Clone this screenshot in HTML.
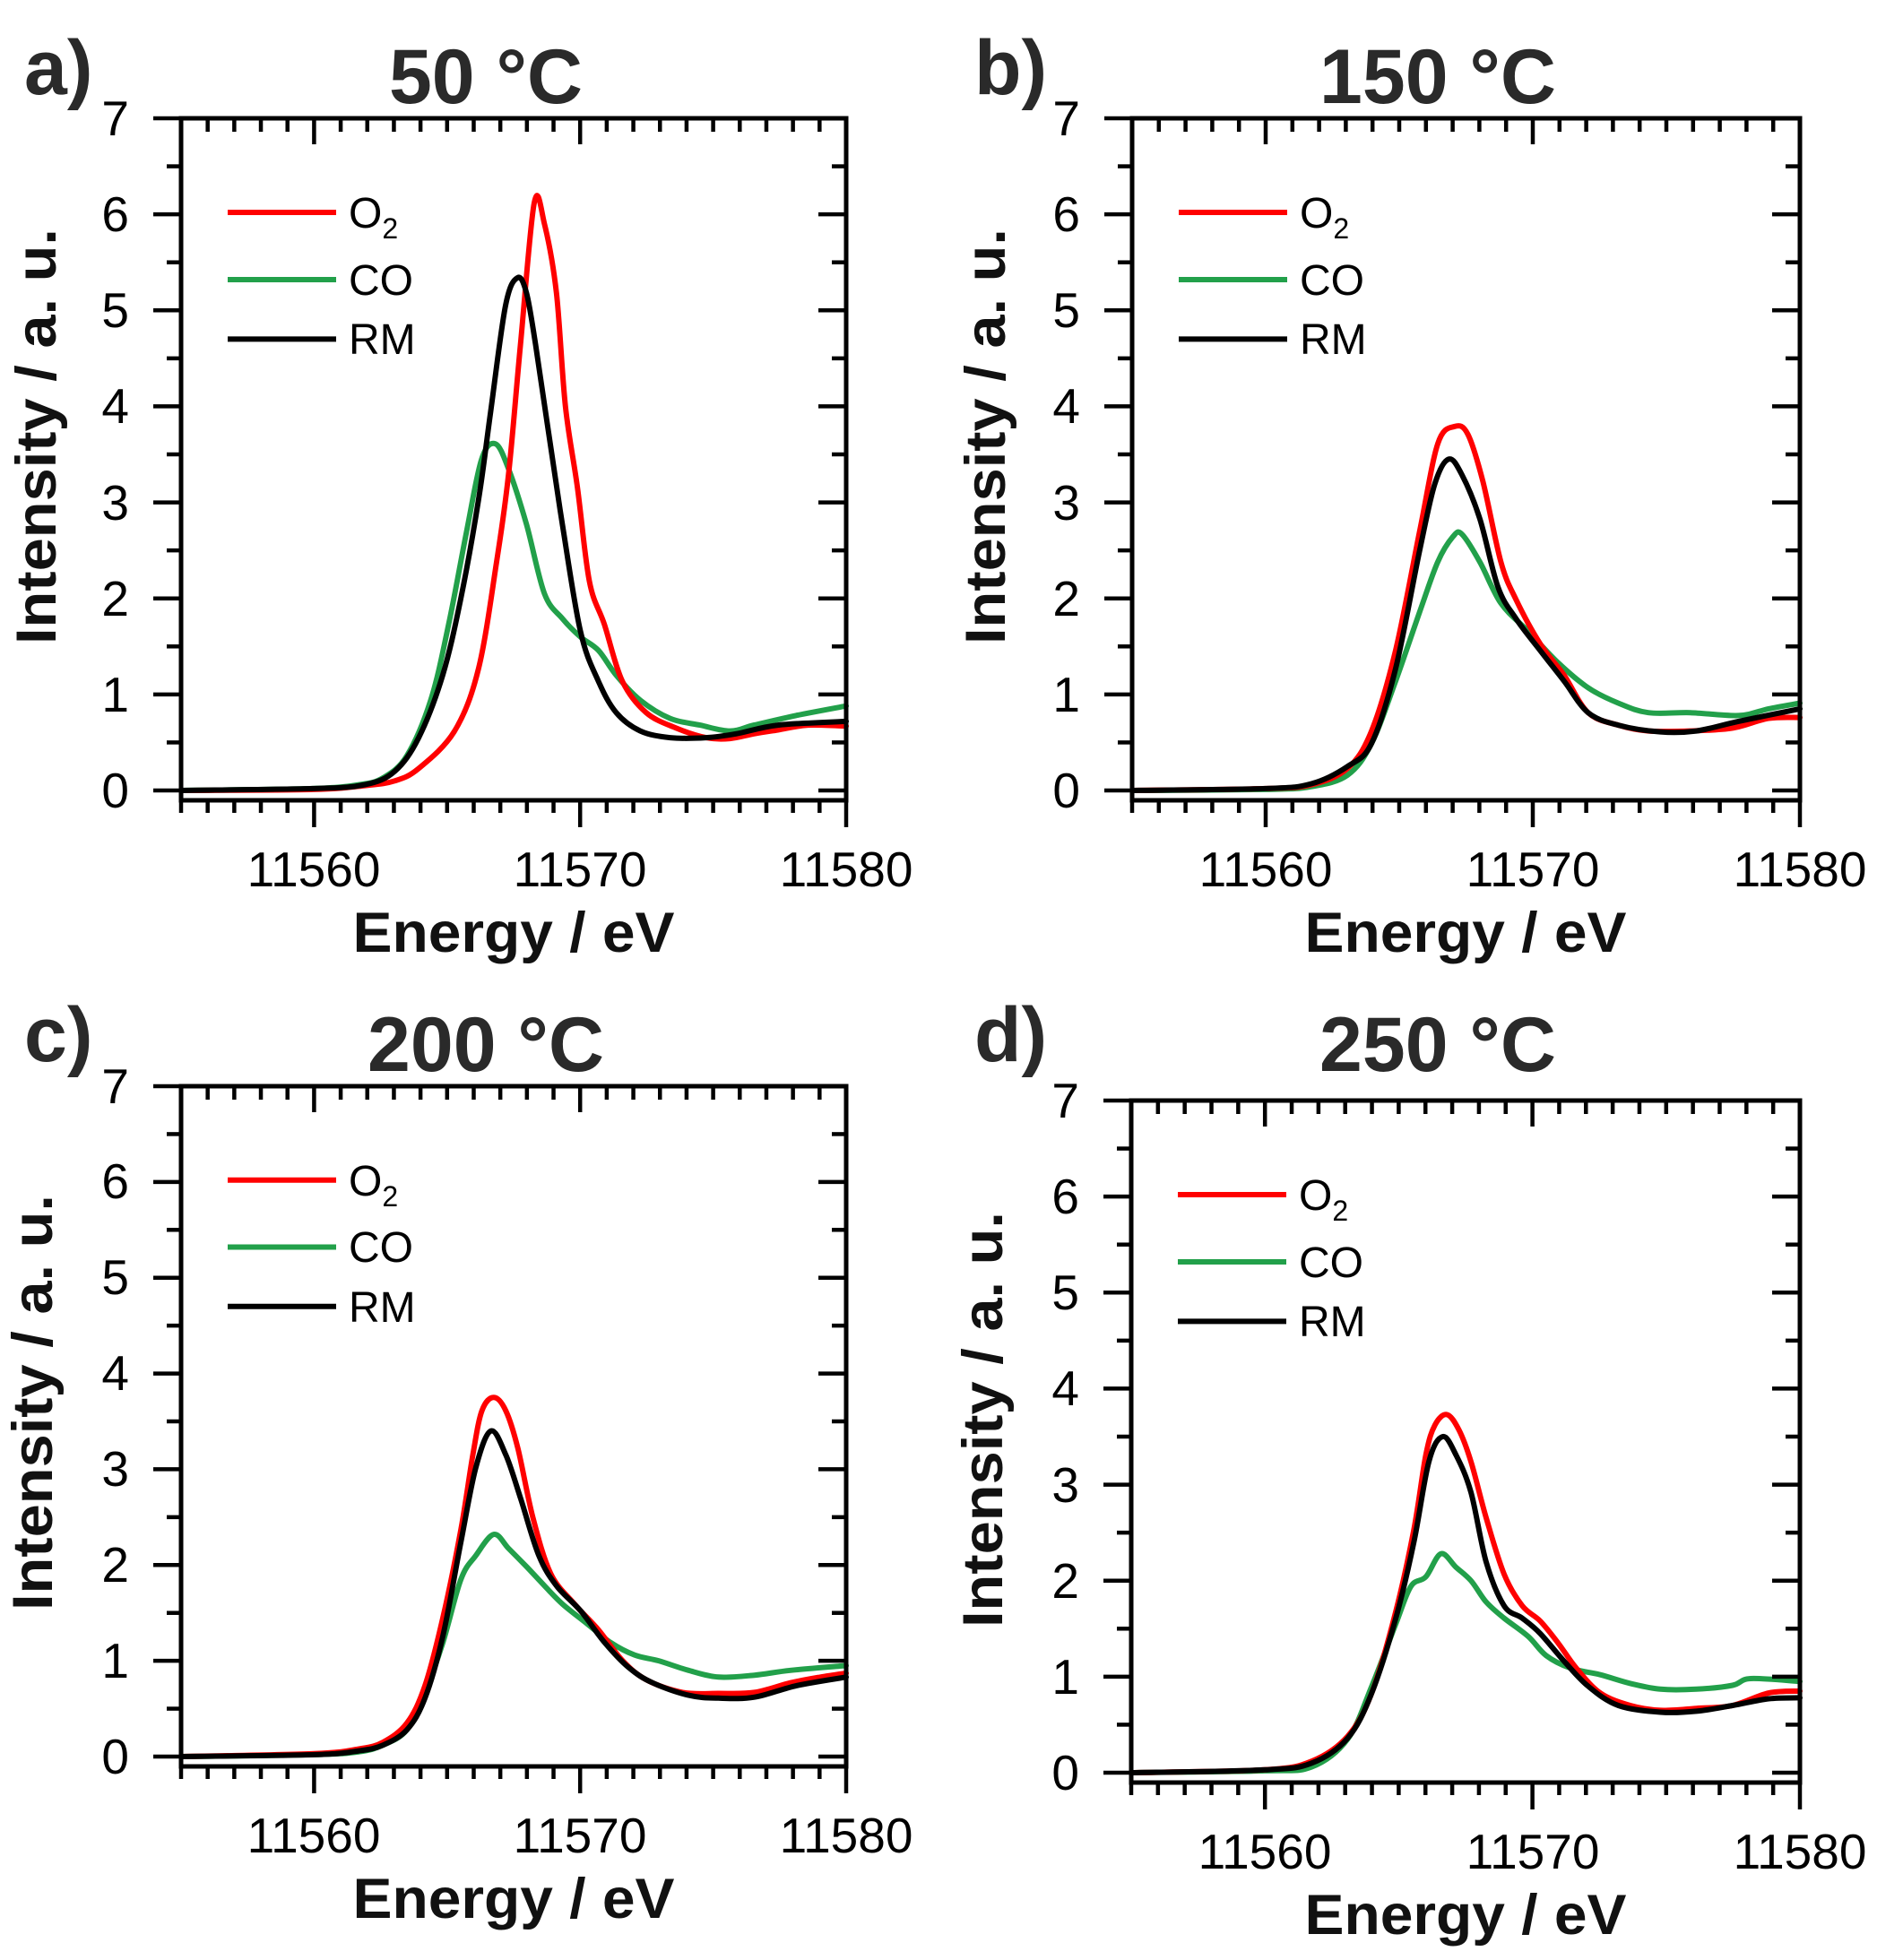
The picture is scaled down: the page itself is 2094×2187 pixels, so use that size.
<!DOCTYPE html>
<html><head><meta charset="utf-8"><style>
html,body{margin:0;padding:0;background:#fff}
svg{display:block}
text{font-family:"Liberation Sans",Arial,sans-serif}
.t{font-size:86px;font-weight:bold;fill:#2a2a2a}
.tk{font-size:55px;fill:#000}
.ax{font-size:63px;font-weight:bold;fill:#111}
.lg{font-size:48px;fill:#000}
</style></head><body>
<svg id="s" width="2094" height="2187" viewBox="0 0 2094 2187" xmlns="http://www.w3.org/2000/svg">
<g id="g"></g>
<text class="t" x="27" y="105">a)</text>
<text class="t" x="1087" y="105">b)</text>
<text class="t" x="27" y="1184">c)</text>
<text class="t" x="1087" y="1184">d)</text>
<text class="t" x="542" y="115" text-anchor="middle">50 °C</text>
<text class="t" x="1604" y="115" text-anchor="middle">150 °C</text>
<text class="t" x="542" y="1195" text-anchor="middle">200 °C</text>
<text class="t" x="1604" y="1195" text-anchor="middle">250 °C</text>
<g class="tk" text-anchor="end">
<text x="144" y="901">0</text><text x="144" y="794">1</text><text x="144" y="687">2</text><text x="144" y="580">3</text><text x="144" y="472">4</text><text x="144" y="365">5</text><text x="144" y="258">6</text><text x="144" y="151">7</text>
<text x="1205" y="901">0</text><text x="1205" y="794">1</text><text x="1205" y="687">2</text><text x="1205" y="580">3</text><text x="1205" y="472">4</text><text x="1205" y="365">5</text><text x="1205" y="258">6</text><text x="1205" y="151">7</text>
<text x="144" y="1979">0</text><text x="144" y="1872">1</text><text x="144" y="1765">2</text><text x="144" y="1658">3</text><text x="144" y="1551">4</text><text x="144" y="1444">5</text><text x="144" y="1337">6</text><text x="144" y="1231">7</text>
<text x="1204" y="1997">0</text><text x="1204" y="1890">1</text><text x="1204" y="1783">2</text><text x="1204" y="1676">3</text><text x="1204" y="1568">4</text><text x="1204" y="1461">5</text><text x="1204" y="1354">6</text><text x="1204" y="1247">7</text>
</g>
<g class="tk" text-anchor="middle">
<text x="350" y="989">11560</text><text x="647" y="989">11570</text><text x="944" y="989">11580</text>
<text x="1412" y="989">11560</text><text x="1710" y="989">11570</text><text x="2008" y="989">11580</text>
<text x="350" y="2067">11560</text><text x="647" y="2067">11570</text><text x="944" y="2067">11580</text>
<text x="1411" y="2085">11560</text><text x="1710" y="2085">11570</text><text x="2008" y="2085">11580</text>
</g>
<g class="ax" text-anchor="middle">
<text x="573" y="1062" textLength="359" lengthAdjust="spacingAndGlyphs">Energy / eV</text>
<text x="1635" y="1062" textLength="359" lengthAdjust="spacingAndGlyphs">Energy / eV</text>
<text x="573" y="2140" textLength="359" lengthAdjust="spacingAndGlyphs">Energy / eV</text>
<text x="1635" y="2158" textLength="359" lengthAdjust="spacingAndGlyphs">Energy / eV</text>
<text transform="translate(62,487) rotate(-90)" textLength="464" lengthAdjust="spacingAndGlyphs">Intensity / a. u.</text>
<text transform="translate(1121,487) rotate(-90)" textLength="464" lengthAdjust="spacingAndGlyphs">Intensity / a. u.</text>
<text transform="translate(58,1565) rotate(-90)" textLength="464" lengthAdjust="spacingAndGlyphs">Intensity / a. u.</text>
<text transform="translate(1118,1584) rotate(-90)" textLength="464" lengthAdjust="spacingAndGlyphs">Intensity / a. u.</text>
</g>
<g class="lg">
<text x="389" y="254">O<tspan font-size="32" dy="12">2</tspan></text><text x="389" y="329">CO</text><text x="389" y="395">RM</text>
<text x="1450" y="254">O<tspan font-size="32" dy="12">2</tspan></text><text x="1450" y="329">CO</text><text x="1450" y="395">RM</text>
<text x="389" y="1334">O<tspan font-size="32" dy="12">2</tspan></text><text x="389" y="1408">CO</text><text x="389" y="1475">RM</text>
<text x="1449" y="1350">O<tspan font-size="32" dy="12">2</tspan></text><text x="1449" y="1425">CO</text><text x="1449" y="1491">RM</text>
</g>
</svg>
<script>
var NS="http://www.w3.org/2000/svg",G=document.getElementById("g");
function el(t,a){var e=document.createElementNS(NS,t);for(var k in a)e.setAttribute(k,a[k]);G.appendChild(e);return e;}
function line(x1,y1,x2,y2,w,c){el("line",{x1:x1,y1:y1,x2:x2,y2:y2,stroke:c||"#000","stroke-width":w||4});}
function smooth(pts){
 var d="M"+pts[0][0].toFixed(1)+","+pts[0][1].toFixed(1);
 for(var i=0;i<pts.length-1;i++){
  var p0=pts[i-1]||pts[i],p1=pts[i],p2=pts[i+1],p3=pts[i+2]||p2;
  var c1x=p1[0]+(p2[0]-p0[0])/6,c1y=p1[1]+(p2[1]-p0[1])/6;
  var c2x=p2[0]-(p3[0]-p1[0])/6,c2y=p2[1]-(p3[1]-p1[1])/6;
  d+="C"+c1x.toFixed(1)+","+c1y.toFixed(1)+" "+c2x.toFixed(1)+","+c2y.toFixed(1)+" "+p2[0].toFixed(1)+","+p2[1].toFixed(1);
 }
 return d;
}
var P=[
 {L:202,R:944,T:132,Z:882,zl:303,zr:1414,
  red:[[303,0],[523,0.01],[610,0.05],[660,0.1],[700,0.23],[760,0.62],[800,1.27],[830,2.38],[850,3.29],[870,4.65],[893,6.12],[910,5.9],[930,5.18],[945,4.0],[965,3.16],[985,2.18],[1010,1.73],[1040,1.14],[1080,0.81],[1130,0.65],[1180,0.55],[1220,0.54],[1260,0.59],[1300,0.63],[1350,0.68],[1414,0.67]],
  grn:[[303,0],[523,0.02],[600,0.06],[640,0.13],[680,0.36],[720,0.94],[750,1.73],[780,2.7],[805,3.45],[828,3.61],[850,3.35],[880,2.77],[910,2.05],[940,1.79],[970,1.6],[1000,1.46],[1030,1.2],[1070,0.94],[1120,0.75],[1170,0.68],[1220,0.62],[1260,0.68],[1330,0.78],[1414,0.88]],
  blk:[[303,0],[523,0.02],[610,0.06],[660,0.2],[700,0.55],[740,1.2],[770,1.99],[800,3.03],[820,3.94],[845,5.05],[865,5.34],[880,5.18],[895,4.65],[915,3.81],[940,2.77],[970,1.66],[1000,1.14],[1030,0.81],[1070,0.62],[1120,0.55],[1180,0.55],[1230,0.59],[1300,0.68],[1414,0.72]]},
 {L:1263,R:2008,T:132,Z:882,zl:322,zr:1432,
  red:[[322,0],[544,0.02],[620,0.06],[680,0.23],[720,0.62],[760,1.46],[800,2.7],[830,3.61],[858,3.79],[880,3.71],[905,3.22],[935,2.38],[960,1.99],[1000,1.53],[1040,1.2],[1080,0.81],[1130,0.68],[1180,0.62],[1250,0.62],[1320,0.65],[1380,0.75],[1432,0.76]],
  grn:[[322,0],[544,0.01],[620,0.04],[680,0.16],[720,0.49],[760,1.14],[800,1.86],[830,2.38],[855,2.64],[870,2.67],[900,2.38],[935,1.95],[980,1.66],[1030,1.33],[1080,1.07],[1130,0.91],[1180,0.81],[1250,0.81],[1330,0.78],[1380,0.85],[1432,0.91]],
  blk:[[322,0],[544,0.02],[620,0.07],[680,0.25],[720,0.49],[760,1.27],[800,2.5],[825,3.19],[848,3.45],[870,3.29],[900,2.83],[930,2.12],[960,1.79],[1000,1.46],[1040,1.14],[1080,0.81],[1130,0.68],[1200,0.61],[1260,0.62],[1330,0.72],[1432,0.85]]},
 {L:202,R:944,T:1212,Z:1960,zl:303,zr:1413,
  red:[[303,0],[525,0.03],[600,0.08],[640,0.15],[680,0.35],[710,0.74],[740,1.45],[770,2.37],[790,3.15],[805,3.61],[825,3.75],[845,3.61],[865,3.22],[890,2.5],[920,1.91],[960,1.59],[1000,1.32],[1040,1.0],[1080,0.8],[1140,0.67],[1200,0.66],[1260,0.67],[1320,0.77],[1370,0.83],[1413,0.87]],
  grn:[[303,0],[525,0.02],[600,0.05],[640,0.12],[680,0.28],[710,0.67],[740,1.19],[770,1.85],[795,2.1],[825,2.32],[850,2.17],[880,1.98],[910,1.78],[940,1.59],[980,1.39],[1020,1.19],[1060,1.06],[1100,1.0],[1150,0.9],[1200,0.83],[1260,0.85],[1320,0.9],[1413,0.95]],
  blk:[[303,0],[525,0.02],[600,0.06],[640,0.12],[680,0.28],[710,0.61],[740,1.26],[770,2.24],[795,3.02],[820,3.4],[845,3.15],[870,2.69],[900,2.1],[930,1.78],[970,1.52],[1010,1.19],[1050,0.93],[1090,0.77],[1150,0.64],[1200,0.61],[1260,0.62],[1330,0.74],[1413,0.83]]},
 {L:1262,R:2008,T:1228,Z:1978,zl:320,zr:1432,
  red:[[320,0],[542,0.03],[620,0.12],[680,0.38],[720,0.83],[760,1.68],[790,2.53],[810,3.31],[825,3.62],[845,3.73],[865,3.57],[885,3.24],[910,2.66],[940,2.07],[970,1.74],[1000,1.58],[1030,1.35],[1060,1.09],[1100,0.83],[1150,0.7],[1200,0.65],[1260,0.67],[1320,0.7],[1380,0.83],[1432,0.85]],
  grn:[[320,0],[542,0.02],[620,0.06],[680,0.35],[720,0.9],[760,1.55],[785,1.94],[810,2.04],[835,2.28],[860,2.14],[885,2.0],[910,1.78],[940,1.61],[980,1.42],[1010,1.22],[1050,1.09],[1100,1.02],[1150,0.93],[1200,0.87],[1260,0.87],[1320,0.91],[1350,0.98],[1432,0.95]],
  blk:[[320,0],[542,0.03],[620,0.1],[680,0.36],[720,0.83],[760,1.61],[790,2.4],[815,3.24],[838,3.5],[860,3.31],[885,2.92],[910,2.2],[940,1.74],[970,1.61],[1000,1.45],[1040,1.16],[1080,0.9],[1130,0.7],[1200,0.63],[1260,0.64],[1320,0.7],[1380,0.77],[1432,0.78]]}
];
P.forEach(function(p){
 var u=(p.Z-p.T)/7, W=p.R-p.L, B=p.Z+11;
 function X(xz){return p.L+(xz-p.zl)/(p.zr-p.zl)*W;}
 function Y(v){return p.Z-v*u;}
 [["grn","#22a04a"],["red","#ff0000"],["blk","#000"]].forEach(function(s){
   var pts=p[s[0]].map(function(q){return [X(q[0]),Y(q[1])];});
   el("path",{d:smooth(pts),fill:"none",stroke:s[1],"stroke-width":6,"stroke-linejoin":"round","stroke-linecap":"round"});
 });
 [["#ff0000",6.02],["#22a04a",5.32],["#000",4.70]].forEach(function(l){line(p.L+52,Y(l[1]),p.L+173,Y(l[1]),6,l[0]);});
 for(var k=0;k<=14;k++){var y=Y(k/2),len=(k%2==0)?31:16;
   line(p.L-len,y,p.L,y,4.5); line(p.R-len,y,p.R,y,4.5);}
 for(var e=0;e<=25;e++){var x=p.L+e*W/25,maj=((e+5)%10==0);
   line(x,B,x,B+(maj?30:14),4.5); line(x,p.T,x,p.T+(maj?29:15),4.5);}
 el("rect",{x:p.L,y:p.T,width:W,height:B-p.T,fill:"none",stroke:"#000","stroke-width":5});
});
</script>
</body></html>
